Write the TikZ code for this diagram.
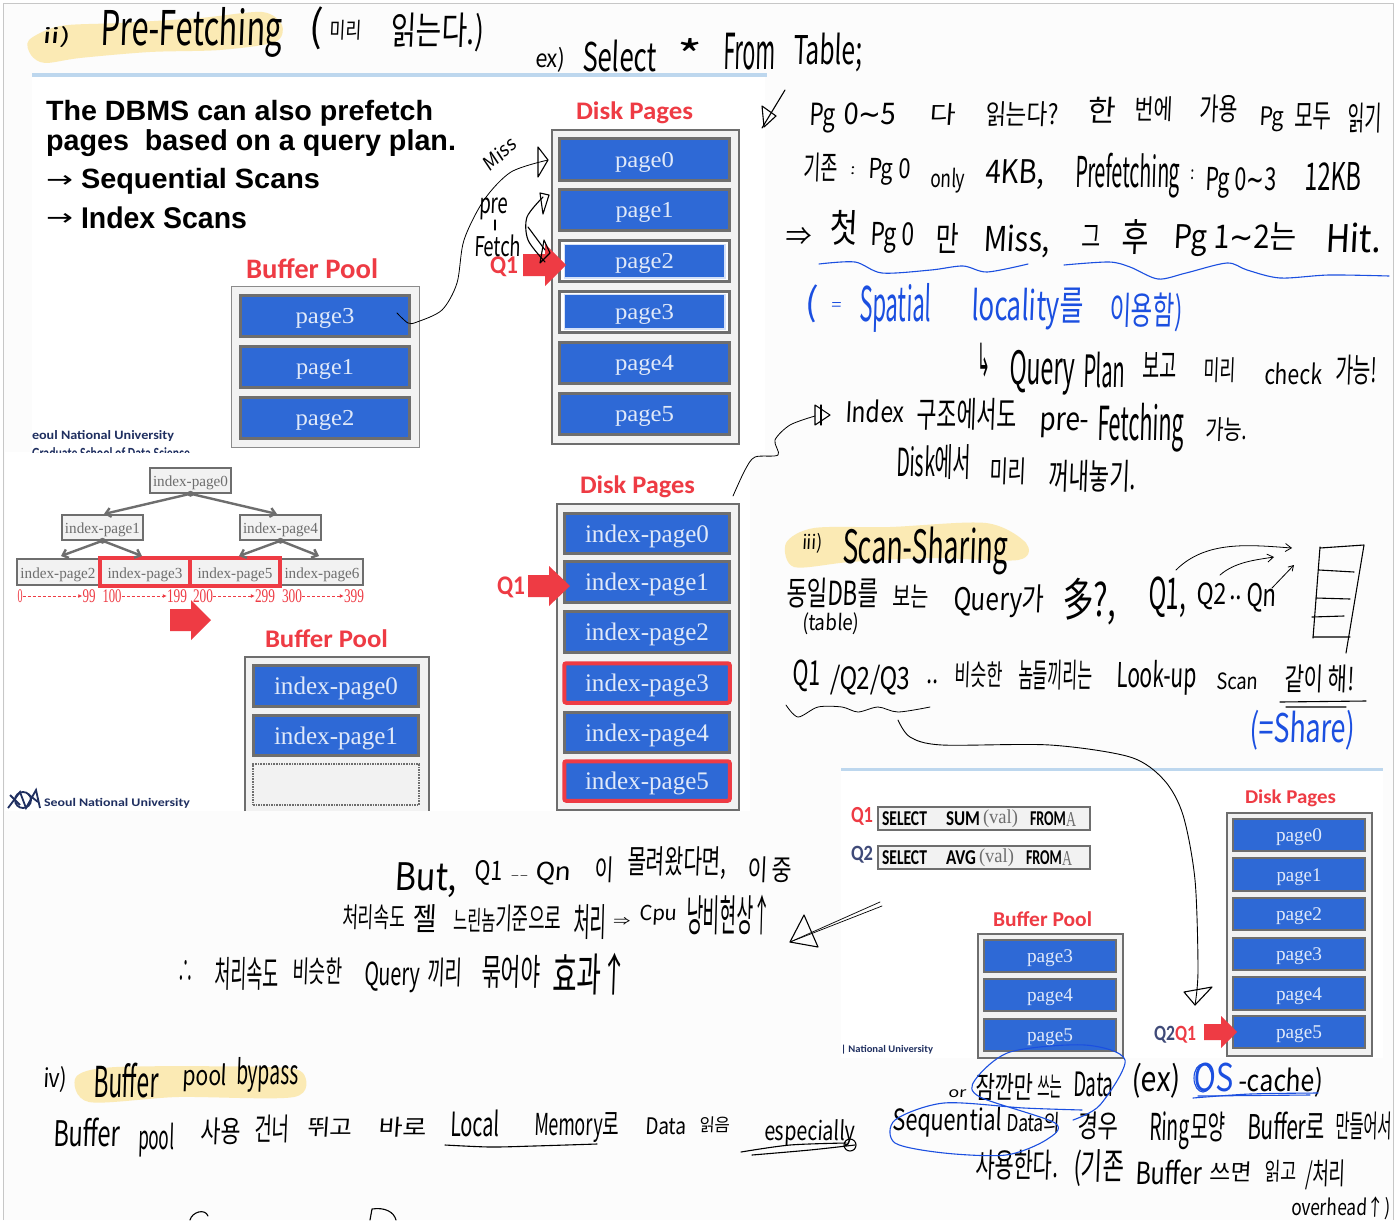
\documentclass[tikz,border=0pt]{standalone}
\usepackage{fontspec}
\setmainfont{Liberation Sans}
\newfontfamily\handfont[FakeSlant=0.06]{Noto Sans CJK KR}
\newfontfamily\arialf{Liberation Sans}
\newfontfamily\capfont{Carlito}
\newfontfamily\serifpg{Liberation Serif}
\newfontfamily\dejafont{DejaVu Sans}
\usetikzlibrary{arrows.meta}
\definecolor{pgblue}{HTML}{2E69D6}
\definecolor{frm}{HTML}{6E6E6E}
\definecolor{pgfill}{HTML}{F2F2F2}
\definecolor{slred}{HTML}{EE3B44}
\definecolor{hl}{HTML}{FBEAB4}
\definecolor{inkblue}{HTML}{1B4FE0}
\definecolor{navy}{HTML}{1F2F60}
\definecolor{qtwo}{HTML}{3F4A78}
\definecolor{rule}{HTML}{BDD7EE}
\tikzset{
 handtxt/.style={anchor=north west,inner sep=0pt,outer sep=0pt,font=\handfont},
 pagebox/.style={draw=frm,line width=3pt,fill=pgblue,text=white!85!pgblue,inner sep=0pt,font=\serifpg},
 redpage/.style={pagebox,draw=slred,line width=4pt,rounded corners=2pt},
 treebox/.style={draw=frm,line width=2pt,fill=pgfill,text=frm,inner sep=0pt,font=\serifpg},
 dotbox/.style={draw=frm,line width=1.6pt,densely dotted,fill=pgfill},
 outerbox/.style={draw=frm,line width=2.5pt,fill=pgfill},
 thinbox/.style={draw=frm!80,line width=1.2pt,fill=pgfill},
 sqlbox/.style={draw=frm,line width=2pt,fill=pgfill},
 ink/.style={draw=black,line width=1.1pt,line cap=round,line join=round},
 inkb/.style={draw=inkblue,line width=1.1pt,line cap=round,line join=round},
 treearrow/.style={draw=frm,line width=2.4pt,-{Straight Barb[length=5pt,width=9pt]}},
 rangearrow/.style={draw=slred,line width=.8pt,densely dashed,-{Latex[length=4pt,width=4pt]}},
}
\newcounter{hwc}
\newcommand\hw[6][black]{\stepcounter{hwc}\pgfmathsetmacro\hww{#4-#2}\pgfmathsetmacro\hwh{#5-#3}%
 \node[handtxt,text=#1] (hw\arabic{hwc}) at (#2,#3) {\resizebox*{\hww pt}{\hwh pt}{#6}};}
\newcommand\pgbox[9][pagebox]{\node[#1,minimum width={#5-#3-2.5},minimum height={#6-#4-2.5}] (#2) at ({(#3+#5)/2},{(#4+#6)/2}) {\raisebox{0pt}[\dimexpr\height+5pt\relax]{\resizebox*{#7pt}{#8pt}{#9}}};}
\newcommand\blockarrow[6]{\fill[slred] (#1,#4-#5) -- (#2,#4-#5) -- (#2,#4-#6) -- (#3,#4) -- (#2,#4+#6) -- (#2,#4+#5) -- (#1,#4+#5) -- cycle;}
\newcommand\arb{\arialf\bfseries}
\newcommand\cb{\capfont\bfseries}
\newcommand\tld{{\dejafont ∼}}
\begin{document}
\begin{tikzpicture}[x=1pt,y=-1pt]
\useasboundingbox (0,0) rectangle (1396,1220);
\fill[white] (0,0) rectangle (1396,1220);
\fill[black!1] (3,4) rectangle (1393,1220);
\draw[black!22,line width=1pt] (3.5,1220) -- (3.5,4) -- (1393,4) -- (1393,1220);
% white slide backgrounds
\fill[white] (32,75) rectangle (765,452);
\fill[white] (5,452) rectangle (750,811);
\fill[white] (841,768) rectangle (1383,1058);
% highlights
\fill[hl] plot[smooth cycle] coordinates {(29,40) (60,26) (120,23) (200,18) (262,12) (282,25) (275,42) (220,50) (150,52) (80,58) (45,63) (31,55)};
\fill[hl] plot[smooth cycle] coordinates {(786,543) (814,528) (890,527) (986,523) (1026,543) (1018,560) (930,558) (850,562) (794,567)};
\fill[hl] plot[smooth cycle] coordinates {(76,1077) (116,1067) (267,1067) (303,1073) (294,1097) (178,1097) (89,1102)};
% rules
\fill[rule] (32,73) rectangle (767,77);
\fill[rule] (841,768) rectangle (1383,771);
%%% slide 1
\hw{46}{100}{433}{126}{\arb The DBMS can also prefetch}
\hw{46}{130}{456}{157}{\arb pages\ \ based on a query plan.}
\hw{46}{175}{73}{187}{\dejafont →}
\hw{81}{168}{320}{194}{\arb Sequential Scans}
\hw{46}{213}{73}{225}{\dejafont →}
\hw{81}{207}{247}{229}{\arb Index Scans}
\hw[slred]{576}{102}{693}{124}{\cb Disk Pages}
\hw[slred]{246}{259}{378}{279}{\cb Buffer Pool}
\hw[navy]{32}{431}{174}{442}{\cb eoul National University}
\begin{scope}
\clip (32,447) rectangle (200,452.5);
\hw[navy]{32}{448}{190}{459}{\cb Graduate School of Data Science}
\end{scope}
\node[outerbox,minimum width=187,minimum height=314] (dsk1) at (645.5,287) {};
\node[thinbox,minimum width=188,minimum height=161] (buf1) at (325.5,367) {};
\pgbox{d1p0}{558}{137}{731}{182}{59}{20}{page0}
\pgbox{d1p1}{558}{188}{731}{232}{58}{20}{page1}
\node[pagebox,fill=white,minimum width=170.5,minimum height=41.5] (d1p2) at (644.5,261) {};
\pgbox[pagebox,draw=white!80!pgblue,line width=1.5pt]{d1p2i}{563}{243}{726}{279}{59}{20}{page2}
\node[pagebox,fill=white,minimum width=170.5,minimum height=41.5] (d1p3) at (644.5,312) {};
\pgbox[pagebox,draw=white!80!pgblue,line width=1.5pt]{d1p3i}{563}{293}{726}{330}{59}{20}{page3}
\pgbox{d1p4}{558}{341}{731}{385}{59}{20}{page4}
\pgbox{d1p5}{558}{392}{731}{436}{59}{20}{page5}
\pgbox{b1p3}{239}{294}{411}{338}{59}{20}{page3}
\pgbox{b1p1}{239}{345}{411}{389}{58}{20}{page1}
\pgbox{b1p2}{239}{396}{411}{440}{59}{20}{page2}
\hw[slred]{490}{257}{518}{277}{\cb Q1}
\blockarrow{523}{545}{566}{265}{11}{21}
%%% slide 2
\hw[slred]{580}{476}{695}{498}{\cb Disk Pages}
\hw[slred]{265}{630}{388}{648}{\cb Buffer Pool}
\node[outerbox,minimum width=182,minimum height=306] (dsk2) at (648,657) {};
\fill[pgfill] (245,657) rectangle (429,811);
\draw[frm,line width=2.5pt] (245,811) -- (245,657) -- (429,657) -- (429,811);
\pgbox{d2p0}{563}{512}{731}{555}{124}{23}{index-page0}
\pgbox{d2p1}{563}{560}{731}{604}{124}{23}{index-page1}
\pgbox{d2p2}{563}{610}{731}{654}{124}{23}{index-page2}
\pgbox[redpage]{d2p3}{563}{662}{731}{704}{124}{23}{index-page3}
\pgbox{d2p4}{563}{711}{731}{754}{124}{23}{index-page4}
\pgbox[redpage]{d2p5}{563}{760}{731}{802}{124}{23}{index-page5}
\pgbox{b2p0}{252}{664}{420}{708}{124}{23}{index-page0}
\pgbox{b2p1}{252}{714}{420}{757}{124}{23}{index-page1}
\node[dotbox,minimum width=166,minimum height=41] (b2p2) at (336,784.5) {};
\hw[slred]{497}{577}{525}{598}{\cb Q1}
\blockarrow{528}{549}{570}{586}{11}{20}
% tree
\pgbox[treebox]{t0}{149}{467}{232}{494}{75}{14}{index-page0}
\pgbox[treebox]{t1}{61}{514}{144}{541}{75}{14}{index-page1}
\pgbox[treebox]{t4}{239}{514}{322}{541}{75}{14}{index-page4}
\pgbox[treebox]{t2}{16}{558}{100}{586}{75}{14}{index-page2}
\pgbox[treebox]{t3}{100}{558}{190}{586}{75}{14}{index-page3}
\pgbox[treebox]{t5}{190}{558}{280}{586}{75}{14}{index-page5}
\pgbox[treebox]{t6}{280}{558}{364}{586}{75}{14}{index-page6}
\draw[slred,line width=4pt] (t3.north west) rectangle (t5.south east);
\draw[slred,line width=4pt] (t3.north east) -- (t3.south east);
\fill[frm] (t0.south) circle (3);
\fill[frm] (t1.south) circle (3);
\fill[frm] (t4.south) circle (3);
\coordinate (c1) at (61,556);
\coordinate (c2) at (142,556);
\coordinate (c3) at (239,556);
\coordinate (c4) at (319,556);
\draw[treearrow] (t0.south) -- (104,514);
\draw[treearrow] (t0.south) -- (277,514);
\draw[treearrow] (t1.south) -- (c1);
\draw[treearrow] (t1.south) -- (c2);
\draw[treearrow] (t4.south) -- (c3);
\draw[treearrow] (t4.south) -- (c4);
\begin{scope}[every node/.style={inner sep=0pt,text=slred,font=\serifpg}]
\node (r0a) at (20,596) {\resizebox*{5pt}{13pt}{0}};
\node (r0b) at (89,596) {\resizebox*{13pt}{13pt}{99}};
\node (r1a) at (112,596) {\resizebox*{19pt}{13pt}{100}};
\node (r1b) at (177,596) {\resizebox*{20pt}{13pt}{199}};
\node (r2a) at (203,596) {\resizebox*{20pt}{13pt}{200}};
\node (r2b) at (265,596) {\resizebox*{20pt}{13pt}{299}};
\node (r3a) at (292,596) {\resizebox*{20pt}{13pt}{300}};
\node (r3b) at (354,596) {\resizebox*{20pt}{13pt}{399}};
\end{scope}
\draw[rangearrow] (r0a) -- (r0b);
\draw[rangearrow] (r1a) -- (r1b);
\draw[rangearrow] (r2a) -- (r2b);
\draw[rangearrow] (r3a) -- (r3b);
\blockarrow{170}{191}{211}{620}{11}{20}
\hw[navy]{44}{798}{190}{808}{\cb Seoul National University}
\draw[navy,line width=1.8pt] (23,800) circle (8);
\draw[navy,line width=1.8pt] (8,808) -- (20,792) -- (26,808) -- (36,790) -- (40,808);
\draw[navy,line width=1.8pt] (10,795) -- (20,805) (28,794) -- (38,802);
%%% slide 3
\hw[slred]{1245}{790}{1336}{807}{\cb Disk Pages}
\hw[slred]{993}{912}{1092}{927}{\cb Buffer Pool}
\node[outerbox,minimum width=145,minimum height=243] (dsk3) at (1299.5,934.5) {};
\node[outerbox,line width=2pt,minimum width=145,minimum height=124] (buf3) at (1050.5,996) {};
\pgbox[pagebox,line width=2.2pt]{d3p0}{1232}{818}{1366}{852}{46}{17}{page0}
\pgbox[pagebox,line width=2.2pt]{d3p1}{1232}{857}{1366}{892}{45}{17}{page1}
\pgbox[pagebox,line width=2.2pt]{d3p2}{1232}{897}{1366}{931}{46}{17}{page2}
\pgbox[pagebox,line width=2.2pt]{d3p3}{1232}{937}{1366}{971}{46}{17}{page3}
\pgbox[pagebox,line width=2.2pt]{d3p4}{1232}{976}{1366}{1011}{46}{17}{page4}
\pgbox[pagebox,line width=2.2pt]{d3p5}{1232}{1015}{1366}{1049}{46}{17}{page5}
\pgbox[pagebox,line width=2.2pt]{b3p3}{983}{939}{1117}{973}{46}{17}{page3}
\pgbox[pagebox,line width=2.2pt]{b3p4}{983}{978}{1117}{1012}{46}{17}{page4}
\pgbox[pagebox,line width=2.2pt]{b3p5}{983}{1018}{1117}{1052}{46}{17}{page5}
\hw[slred]{851}{807}{873}{825}{\cb Q1}
\hw[qtwo]{851}{846}{873}{863}{\cb Q2}
\node[sqlbox,minimum width=212,minimum height=23] (q1box) at (984,818.5) {};
\node[sqlbox,minimum width=212,minimum height=23] (q2box) at (984,857) {};
\hw{882}{812}{927}{826}{\cb SELECT}
\hw{946}{812}{980}{826}{\cb SUM}
\hw[frm]{983}{810}{1018}{828}{\serifpg (val)}
\hw{1030}{812}{1066}{826}{\cb FROM}
\hw[frm]{1066}{812}{1076}{826}{\serifpg A}
\hw{882}{851}{927}{865}{\cb SELECT}
\hw{946}{851}{976}{865}{\cb AVG}
\hw[frm]{979}{849}{1014}{867}{\serifpg (val)}
\hw{1026}{851}{1062}{865}{\cb FROM}
\hw[frm]{1062}{851}{1072}{865}{\serifpg A}
\hw[qtwo]{1154}{1026}{1175}{1043}{\cb Q2}
\hw[slred]{1175}{1026}{1196}{1043}{\cb Q1}
\blockarrow{1204}{1221}{1237}{1032}{8}{16}
\hw[navy]{841}{1045}{933}{1054}{\cb | National University}
%%% handwriting, top
\hw{42}{27}{71}{48}{ii)}
\hw{100}{7}{282}{57}{Pre-Fetching}
\hw{308}{7}{322}{50}{(}
\hw{329}{20}{361}{40}{미리}
\hw{390}{13}{484}{52}{읽는다.)}
\hw{535}{47}{565}{72}{ex)}
\hw{582}{40}{656}{72}{Select}
\hw{675}{38}{700}{70}{*}
\hw{723}{33}{775}{70}{From}
\hw{793}{33}{862}{72}{Table;}
% miss arrow
\hw{481}{135}{518}{173}{\rotatebox{40}{Miss}}
\hw{479}{198}{508}{220}{pre}
\draw[ink] (495,220) -- (495,230);
\hw{474}{235}{521}{257}{Fetch}
\coordinate (hookstart) at (397,313);
\coordinate (misshead) at (548,160);
\draw[ink,line width=.8pt] plot[smooth] coordinates {(hookstart) (408,323) (417,322) (442,310) (457,283) (464,240) (484,200) (511,172) (misshead)};
\draw[ink] (538,147) -- (misshead) -- (538,177) -- cycle;
\draw[ink] plot[smooth] coordinates {(545,262) (528,240) (527,217) (543,197)};
\draw[ink] (540,193) -- (549,195) -- (543,214) -- cycle;
\draw[ink] (528,227) -- (545,250);
\draw[ink] (540,263) -- (544,240) -- (550,253) -- cycle;
% right column
\draw[ink] (762,128) -- (785,90);
\draw[ink] (762,106) -- (776,116) -- (764,127) -- cycle;
\hw{809}{103}{835}{133}{Pg}
\hw{843}{103}{896}{125}{0\tld 5}
\hw{929}{103}{955}{125}{다}
\hw{985}{102}{1058}{127}{읽는다?}
\hw{1087}{97}{1115}{123}{한}
\hw{1134}{97}{1172}{122}{번에}
\hw{1199}{95}{1237}{123}{가용}
\hw{1259}{107}{1284}{132}{Pg}
\hw{1294}{103}{1331}{130}{모두}
\hw{1347}{103}{1381}{133}{읽기}
\hw{803}{153}{837}{182}{기존}
\hw{850}{167}{855}{175}{:}
\hw{868}{158}{910}{185}{Pg 0}
\hw{930}{168}{965}{193}{only}
\hw{985}{160}{1044}{190}{4KB,}
\hw{1075}{153}{1180}{198}{Prefetching}
\hw{1190}{170}{1194}{180}{:}
\hw{1205}{167}{1276}{198}{Pg 0\tld 3}
\hw{1304}{162}{1361}{190}{12KB}
\hw{785}{227}{811}{245}{⇒}
\hw{829}{210}{857}{245}{첫}
\hw{870}{222}{914}{253}{Pg 0}
\hw{935}{223}{958}{253}{만}
\hw{983}{225}{1050}{258}{Miss,}
\hw{1081}{225}{1100}{247}{그}
\hw{1121}{220}{1148}{255}{후}
\hw{1173}{223}{1296}{257}{Pg 1\tld 2는}
\hw{1325}{223}{1381}{253}{Hit.}
\draw[inkb] plot[smooth] coordinates {(819,264) (855,262) (882,273) (931,270) (963,266) (987,272) (1028,264)};
\draw[inkb] plot[smooth] coordinates {(1064,265) (1109,262) (1130,267) (1158,279) (1186,273) (1227,263) (1247,270) (1280,278) (1329,275) (1389,276)};
\hw[inkblue]{804}{285}{817}{323}{(}
\hw[inkblue]{831}{302}{841}{310}{=}
\hw[inkblue]{859}{283}{931}{332}{Spatial}
\hw[inkblue]{971}{288}{1083}{330}{locality를}
\hw[inkblue]{1109}{293}{1182}{332}{이용함)}
\hw{977}{343}{990}{377}{\dejafont ↳}
\hw{1009}{350}{1075}{395}{Query}
\hw{1083}{352}{1125}{388}{Plan}
\hw{1142}{352}{1176}{378}{보고}
\hw{1203}{358}{1235}{383}{미리}
\hw{1264}{363}{1322}{385}{check}
\hw{1335}{355}{1377}{385}{가능!}
\hw{845}{400}{904}{423}{Index}
\hw{916}{398}{1016}{430}{구조에서도}
\hw{1039}{413}{1089}{438}{pre-}
\hw{1097}{403}{1184}{452}{Fetching}
\hw{1205}{418}{1247}{442}{가능.}
\hw{896}{445}{971}{480}{Disk에서}
\hw{989}{458}{1026}{485}{미리}
\hw{1048}{460}{1136}{492}{꺼내놓기.}
\coordinate (idxstart) at (733,496);
\coordinate (idxhead) at (830,415);
\draw[ink,line width=.8pt] plot[smooth] coordinates {(idxstart) (745,470) (755,457) (778,455) (775,440) (790,425) (815,416)};
\draw[ink] (815,405) -- (idxhead) -- (815,425) -- cycle;
\draw[ink] (821,405) -- (821,425);
% scan sharing
\hw{802}{533}{822}{553}{iii)}
\hw{842}{527}{1008}{575}{Scan-Sharing}
\hw{786}{578}{878}{608}{동일DB를}
\hw{892}{585}{928}{608}{보는}
\hw{802}{613}{859}{635}{(table)}
\hw{953}{585}{1044}{618}{Query가}
\hw{1062}{578}{1116}{625}{多?,}
\hw{1148}{577}{1186}{618}{Q1,}
\hw{1196}{583}{1226}{610}{Q2}
\hw{1229}{596}{1242}{600}{..}
\hw{1246}{583}{1276}{612}{Qn}
\draw[ink,line width=.8pt,-{Straight Barb[length=6pt,width=8pt]}] (1176,570) .. controls (1206,540) and (1250,545) .. (1292,548);
\draw[ink,line width=.8pt,-{Straight Barb[length=6pt,width=8pt]}] (1220,575) .. controls (1235,562) and (1255,560) .. (1274,557);
\draw[ink,line width=.8pt,-{Straight Barb[length=5pt,width=6pt]}] (1272,588) -- (1294,565);
\draw[ink] (1320,547) -- (1313,638) (1364,545) -- (1346,653) (1320,548) -- (1364,545);
\draw[ink] (1319,570) -- (1354,572) (1316,598) -- (1350,599) (1312,617) -- (1344,616) (1313,637) -- (1350,637);
\hw{792}{660}{820}{692}{Q1}
\hw{830}{665}{910}{695}{/Q2/Q3}
\hw{926}{680}{938}{684}{..}
\hw{954}{662}{1002}{688}{비슷한}
\hw{1018}{660}{1092}{690}{놈들끼리는}
\hw{1116}{660}{1196}{695}{Look-up}
\hw{1216}{673}{1258}{690}{Scan}
\hw{1284}{665}{1354}{693}{같이 해!}
\draw[ink] (1280,702) -- (1366,701) (1286,707) -- (1346,707);
\hw[inkblue]{1249}{710}{1355}{750}{(=Share)}
\draw[ink,line width=.8pt] plot[smooth] coordinates {(786,705) (798,717) (818,707) (842,707) (858,712) (878,707) (898,712) (930,707)};
\coordinate (bigstart) at (898,720);
\coordinate (bighead) at (1195,1005);
\draw[ink,line width=.9pt] plot[smooth] coordinates {(bigstart) (910,737) (942,745) (1050,745) (1130,757) (1164,780) (1183,815) (1195,880) (1198,970) (bighead)};
\draw[ink] (1184,992) -- (1212,987) -- (bighead) -- cycle;
% but lines
\hw{394}{863}{457}{898}{But,}
\hw{474}{860}{502}{885}{Q1}
\hw{510}{875}{528}{878}{--}
\hw{535}{862}{571}{885}{Qn}
\hw{594}{857}{613}{883}{이}
\hw{627}{847}{726}{880}{몰려왔다면,}
\hw{747}{857}{792}{883}{이 중}
\hw{342}{905}{405}{930}{처리속도}
\hw{412}{905}{436}{933}{젤}
\hw{453}{908}{495}{932}{느린놈}
\hw{495}{905}{561}{932}{기준으로}
\hw{573}{905}{606}{940}{처리}
\hw{613}{917}{630}{925}{⇒}
\hw{639}{905}{677}{925}{Cpu}
\hw{686}{895}{771}{935}{낭비현상↑}
\hw{177}{960}{193}{982}{∴}
\hw{214}{957}{278}{990}{처리속도}
\hw{292}{958}{342}{985}{비슷한}
\hw{364}{962}{420}{993}{Query}
\hw{427}{958}{462}{987}{끼리}
\hw{481}{955}{540}{988}{묶어야}
\hw{552}{953}{627}{995}{효과↑}
\coordinate (slanttail) at (880,902);
\coordinate (slanthead) at (790,942);
\draw[ink,line width=.7pt] (slanttail) -- (slanthead);
\draw[ink,line width=.7pt] (882,906) -- (slanthead);
\draw[ink] (804,915) -- (slanthead) -- (818,947) -- cycle;
% bypass
\hw{43}{1067}{67}{1093}{iv)}
\hw{93}{1063}{158}{1098}{Buffer}
\hw{182}{1064}{227}{1092}{pool}
\hw{236}{1057}{298}{1092}{bypass}
\hw{53}{1118}{120}{1147}{Buffer}
\hw{138}{1123}{174}{1157}{pool}
\hw{200}{1118}{240}{1145}{사용}
\hw{254}{1115}{289}{1143}{건너}
\hw{307}{1117}{352}{1137}{뛰고}
\hw{378}{1117}{426}{1137}{바로}
\hw{450}{1110}{499}{1137}{Local}
\hw{534}{1113}{619}{1143}{Memory로}
\hw{645}{1118}{686}{1135}{Data}
\hw{699}{1117}{730}{1133}{읽음}
\hw{764}{1120}{855}{1147}{especially}
\hw{892}{1107}{1002}{1137}{Sequential}
\hw{1006}{1112}{1060}{1133}{Data의}
\hw{1077}{1112}{1118}{1140}{경우}
\hw{1149}{1112}{1189}{1150}{Ring}
\hw{1190}{1112}{1225}{1142}{모양}
\hw{1247}{1112}{1325}{1140}{Buffer로}
\hw{1335}{1112}{1392}{1140}{만들어서}
\hw{975}{1150}{1058}{1180}{사용한다.}
\hw{1073}{1150}{1124}{1187}{(기존}
\hw{1135}{1160}{1202}{1185}{Buffer}
\hw{1209}{1162}{1251}{1182}{쓰면}
\hw{1264}{1160}{1296}{1182}{읽고}
\hw{1305}{1160}{1345}{1190}{/처리}
\hw{1291}{1197}{1390}{1220}{overhead↑)}
\hw{948}{1090}{966}{1098}{or}
\hw{975}{1073}{1033}{1100}{잠깐만}
\hw{1037}{1075}{1062}{1098}{쓰는}
\hw{1073}{1072}{1113}{1097}{Data}
\hw{1131}{1063}{1180}{1098}{(ex)}
\hw[inkblue]{1193}{1063}{1233}{1092}{OS}
\hw{1238}{1067}{1323}{1097}{-cache)}
\draw[ink] plot[smooth] coordinates {(445,1145) (490,1147) (534,1146) (597,1144)};
\draw[ink] plot[smooth] coordinates {(741,1152) (790,1145) (846,1143)};
\draw[ink] plot[smooth] coordinates {(752,1155) (810,1150) (855,1145)};
\draw[ink] (850,1145) circle (6);
\draw[inkb] plot[smooth] coordinates {(1082,1110) (1024,1108) (944,1103) (895,1120) (895,1143) (944,1153) (1006,1155) (1046,1140) (1055,1123) (980,1097) (975,1080) (1010,1052) (1085,1045) (1125,1060) (1100,1105) (1073,1120)};
\draw[inkb] plot[smooth] coordinates {(1193,1098) (1250,1094) (1318,1093)};
\draw[inkb] (1198,1096) -- (1310,1095);
\draw[inkb] (1203,1078) ellipse (9 and 14);
% clipped words at the page foot
\draw[ink] (190,1220) .. controls (192,1212) and (205,1208) .. (208,1216);
\draw[ink] (370,1220) -- (372,1209) .. controls (385,1207) and (394,1212) .. (396,1220);
\end{tikzpicture}
\end{document}
